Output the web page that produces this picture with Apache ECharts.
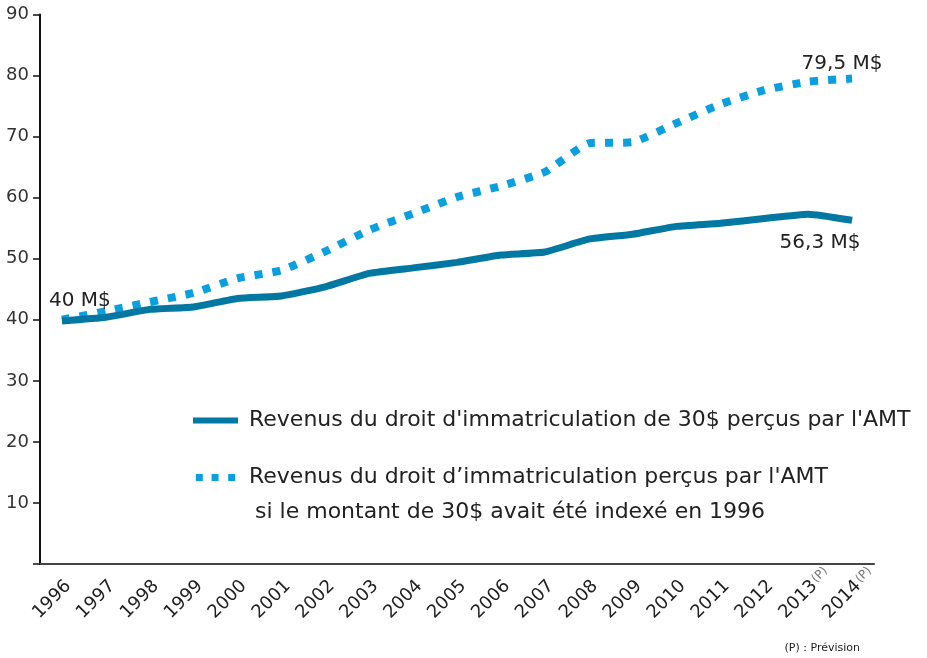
<!DOCTYPE html>
<html>
<head>
<meta charset="utf-8">
<script src="https://cdn.jsdelivr.net/npm/echarts@6/dist/echarts.min.js"></script>
<style>
  html, body { margin: 0; padding: 0; background: #fff; }
  #main { width: 927px; height: 658px; }
</style>
</head>
<body>
<div id="main"></div>
<script>
  // données (M$)
  const annees = ['1996', '1997', '1998', '1999', '2000', '2001', '2002', '2003', '2004', '2005',
    '2006', '2007', '2008', '2009', '2010', '2011', '2012', '2013', '2014'];
  const revenus30 = [39.8, 40.4, 41.7, 42.1, 43.5, 43.9, 45.4, 47.6, 48.5, 49.4,
    50.6, 51.1, 53.2, 54.0, 55.3, 55.8, 56.6, 57.3, 56.3];
  const revenusIndexes = [40.0, 41.4, 42.9, 44.4, 46.8, 48.1, 51.2, 54.7, 57.4, 60.1,
    61.9, 64.2, 68.9, 69.1, 72.2, 75.3, 77.6, 79.0, 79.5];
  const anneesPrevision = ['2013', '2014'];

  const nomSerie1 = "Revenus du droit d'immatriculation de 30$ perçus par l'AMT";
  const nomSerie2 = "Revenus du droit d’immatriculation perçus par l'AMT";
  const suiteSerie2 = "si le montant de 30$ avait été indexé en 1996";

  const police = 'DejaVu Sans';
  const bleuFonce = '#0078A2';
  const bleuClair = '#0AA0DF';
  const dernier = annees.length - 1;

  function etiquette(v) {
    return String(v).replace('.', ',') + ' M$';
  }

  const lbl = { show: true, fontFamily: police, fontSize: 20, color: '#222',
    formatter: (p) => etiquette(p.value) };

  const data1 = revenus30.map((v, i) => i === dernier
    ? { value: v, label: Object.assign({}, lbl, { position: 'bottom', offset: [-32, 8] }) }
    : v);
  const data2 = revenusIndexes.map((v, i) => {
    if (i === 0) return { value: v, label: Object.assign({}, lbl, { position: 'top', offset: [18, -4] }) };
    if (i === dernier) return { value: v, label: Object.assign({}, lbl, { position: 'top', offset: [-10, 0] }) };
    return v;
  });

  const myChart = echarts.init(document.getElementById('main'));
  myChart.setOption({
    animation: false,
    grid: { left: 40, right: 53, top: 14.5, bottom: 94 },
    legend: {
      orient: 'vertical',
      left: 193,
      top: 406,
      padding: 0,
      itemWidth: 45,
      itemHeight: 7,
      itemGap: 28,
      textStyle: { fontFamily: police, fontSize: 22, color: '#222', lineHeight: 29, padding: [0, 0, 0, 6] },
      data: [
        { name: nomSerie1, icon: 'path://M0,0h45v6h-45z' },
        { name: nomSerie2, icon: 'path://M0,0h8v8h-8z M18,0h8v8h-8z M37,0h8v8h-8z' }
      ]
    },
    xAxis: {
      type: 'category',
      data: annees,
      boundaryGap: true,
      axisLine: { lineStyle: { color: '#444', width: 2 } },
      axisTick: { length: 6, lineStyle: { color: '#333', width: 2 } },
      axisLabel: { rotate: 45, margin: 13, verticalAlign: 'top', fontFamily: police, fontSize: 18, color: '#222', interval: 0 }
    },
    yAxis: {
      type: 'value',
      min: 0,
      max: 90,
      interval: 10,
      splitLine: { show: false },
      axisLine: { show: true, lineStyle: { color: '#111', width: 2 } },
      axisTick: { show: true, length: 7, lineStyle: { color: '#111', width: 1.5 } },
      axisLabel: {
        fontFamily: police, fontSize: 18, color: '#333', margin: 11,
        formatter: (v) => v === 0 ? '' : String(v)
      }
    },
    series: [
      {
        name: nomSerie1,
        type: 'line',
        symbol: 'circle',
        symbolSize: 0,
        showAllSymbol: true,
        smooth: 0.15,
        data: data1,
        lineStyle: { color: bleuFonce, width: 7 },
        itemStyle: { color: bleuFonce },
        z: 3
      },
      {
        name: nomSerie2,
        type: 'line',
        symbol: 'circle',
        symbolSize: 0,
        showAllSymbol: true,
        smooth: 0.15,
        data: data2,
        lineStyle: { color: bleuClair, width: 8, type: [8, 10], cap: 'butt' },
        itemStyle: { color: bleuClair },
        z: 2
      }
    ]
  });

  // (P) à côté des années de prévision + notes
  const graphiques = anneesPrevision.map((a) => {
    const px = myChart.convertToPixel({ xAxisIndex: 0 }, a);
    return {
      type: 'text',
      x: px + 10,
      y: 585,
      rotation: Math.PI / 4,
      style: { text: '(P)', fontFamily: police, fontSize: 12, fill: '#777', verticalAlign: 'bottom' }
    };
  });
  graphiques.push({
    type: 'text',
    x: 255,
    y: 512,
    style: { text: suiteSerie2, fontFamily: police, fontSize: 22, fill: '#222', verticalAlign: 'middle' }
  });
  graphiques.push({
    type: 'text',
    right: 67,
    top: 643,
    style: { text: '(P) : Prévision', fontFamily: police, fontSize: 11, fill: '#222' }
  });
  myChart.setOption({ graphic: graphiques });

  window.onresize = function () {
    myChart.resize();
  };
</script>
</body>
</html>
